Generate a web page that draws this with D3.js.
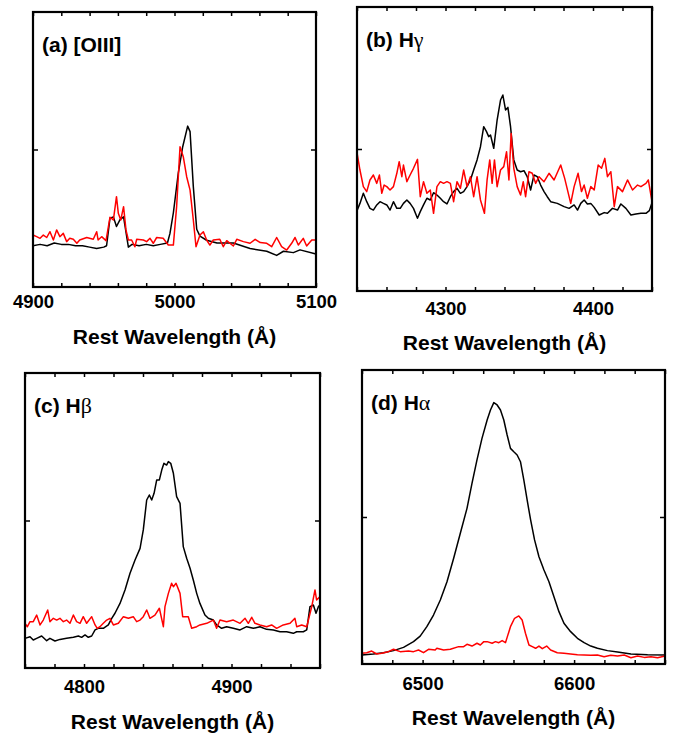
<!DOCTYPE html>
<html>
<head>
<meta charset="utf-8">
<script src="https://cdn.jsdelivr.net/npm/d3@7"></script>
<style>
  body { margin: 0; background: #fff; }
  text { font-family: "Liberation Sans", Arial, sans-serif; }
</style>
</head>
<body>
<div id="chartContainer"></div>
<script>
// Spectra: [rest wavelength (Å), relative flux]
const oiiiBlack = [[4900,.30],[4905,.31],[4910,.30],[4915,.32],[4920,.31],[4925,.31],[4930,.30],[4935,.30],[4940,.29],[4945,.28],[4950,.29],[4952,.30],[4954.4,.50],[4956.8,.51],[4959,.44],[4961.5,.49],[4964,.51],[4967.4,.29],[4970,.31],[4975,.30],[4980,.31],[4985,.30],[4990,.31],[4995,.32],[4996.8,.39],[4999.2,.54],[5002.7,.83],[5005.8,1.02],[5009.3,1.17],[5011,1.13],[5013.3,.73],[5015.7,.42],[5018,.37],[5022.7,.34],[5030,.32],[5041.6,.32],[5053.4,.28],[5065.2,.26],[5072.2,.23],[5077,.26],[5084,.25],[5088.7,.27],[5100,.24]];
const oiiiRed = [[4900,.378],[4902.6,.366],[4905,.354],[4907.3,.378],[4909.7,.36],[4912,.402],[4914.4,.342],[4916.7,.415],[4919,.366],[4921.4,.39],[4923.8,.33],[4926,.354],[4928.5,.347],[4931,.318],[4933,.342],[4938,.36],[4942.6,.347],[4945,.402],[4946,.342],[4948.5,.366],[4951.6,.337],[4954.4,.507],[4956.8,.487],[4959,.657],[4960.3,.536],[4962,.487],[4964,.584],[4965.7,.415],[4967.4,.342],[4969.7,.342],[4972,.293],[4973.3,.347],[4978,.342],[4980.3,.33],[4982.7,.354],[4985,.318],[4987.4,.36],[4992,.354],[4995.6,.305],[4999.2,.305],[5001.5,.584],[5003.9,1.02],[5006.2,.948],[5008.6,.802],[5011,.705],[5013.3,.487],[5015.2,.293],[5018,.378],[5020.4,.402],[5022.7,.342],[5025,.305],[5027.4,.342],[5032,.347],[5034.5,.293],[5036.9,.337],[5041.6,.298],[5044,.347],[5048.7,.33],[5053.4,.318],[5057,.347],[5060.6,.323],[5065.2,.318],[5068.7,.293],[5072.2,.36],[5075.7,.293],[5079.3,.269],[5082.8,.318],[5085.2,.36],[5087.5,.305],[5091,.354],[5093.4,.298],[5097,.342],[5100,.342]];

const hgBlack = [[4240,.566],[4242,.617],[4244.3,.688],[4246.6,.629],[4248.8,.582],[4251.1,.570],[4253.4,.606],[4255.6,.629],[4257.9,.617],[4260.2,.606],[4262.4,.570],[4264.7,.629],[4267,.582],[4269.3,.582],[4271.5,.617],[4273.8,.641],[4276,.617],[4278.3,.582],[4281,.512],[4282.9,.559],[4285.1,.606],[4287.4,.653],[4289.7,.641],[4291.9,.692],[4294.2,.676],[4296.5,.653],[4298.7,.629],[4301,.613],[4303.3,.664],[4305.5,.700],[4307.8,.723],[4310.1,.688],[4312.3,.700],[4314.6,.735],[4316.9,.782],[4319.1,.852],[4321.4,.923],[4323.7,1.016],[4325.9,1.157],[4327.8,1.122],[4329.3,1.087],[4330.5,1.099],[4332.7,1.005],[4335,1.204],[4337.3,1.345],[4338.9,1.380],[4340.7,1.275],[4342.3,1.293],[4344.1,1.157],[4346.3,.923],[4348.6,.852],[4350.9,.840],[4353.2,.847],[4355.4,.805],[4357.7,.711],[4360,.817],[4362.2,.805],[4364.5,.746],[4366.8,.700],[4369,.664],[4371.3,.629],[4375.8,.617],[4380.4,.594],[4383.8,.582],[4387.2,.606],[4389.5,.570],[4391.7,.617],[4394,.641],[4396.2,.613],[4398.5,.617],[4400.8,.589],[4404.2,.535],[4407.6,.552],[4409.8,.547],[4413.2,.582],[4416.6,.570],[4418.9,.613],[4422.3,.582],[4425.7,.535],[4429.1,.542],[4432.5,.547],[4435.9,.547],[4438.2,.566],[4440,.622]];
const hgRed = [[4240,.974],[4242,.852],[4244.3,.735],[4246.6,.700],[4248.8,.782],[4251.1,.817],[4253.4,.758],[4255.2,.817],[4256.8,.688],[4258.4,.746],[4260.2,.735],[4262.4,.711],[4264.7,.735],[4267,.829],[4268.6,.911],[4270.4,.805],[4271.5,.887],[4273.8,.770],[4276,.817],[4278.3,.864],[4281,.927],[4282.9,.664],[4285.1,.770],[4287.4,.688],[4289.7,.711],[4291.9,.547],[4294.2,.735],[4296.5,.770],[4298.7,.758],[4301,.770],[4303.3,.758],[4305.5,.629],[4307.8,.770],[4310.1,.723],[4312.3,.852],[4314.6,.735],[4316.9,.805],[4319.1,.664],[4321.4,.805],[4323.7,.641],[4326.4,.547],[4328.2,.782],[4330,.923],[4331.6,.758],[4333.2,.923],[4335,.735],[4337.3,.852],[4339.5,.876],[4341.4,.981],[4343,.782],[4344.5,1.110],[4346.3,.864],[4348.6,.735],[4350.9,.676],[4352.7,.770],[4354.3,.664],[4356.6,.840],[4358.8,.829],[4361.1,.758],[4363.4,.805],[4366.8,.770],[4370.2,.829],[4373.6,.782],[4378.1,.887],[4380.8,.793],[4384.9,.617],[4387.2,.735],[4389.9,.829],[4392.2,.700],[4394,.746],[4396.2,.653],[4398.5,.735],[4400.8,.711],[4403.5,.887],[4405.8,.864],[4408,.934],[4409.8,.805],[4412.1,.840],[4414.4,.594],[4416.6,.735],[4420,.700],[4423.4,.782],[4426.8,.711],[4430.2,.746],[4432.5,.735],[4435.9,.758],[4437.5,.782],[4440,.629]];

const hbBlack = [[4760,.201],[4763.4,.212],[4765.6,.190],[4767.9,.201],[4771.3,.217],[4774.7,.185],[4776.9,.201],[4780.3,.183],[4783.7,.194],[4788.2,.201],[4792.8,.208],[4796.2,.217],[4798.4,.208],[4800.7,.224],[4802.9,.208],[4805.2,.217],[4807.5,.258],[4809.7,.269],[4813.1,.269],[4816.5,.292],[4818.8,.337],[4821,.371],[4824.4,.438],[4827.8,.529],[4831.2,.642],[4834.6,.732],[4838,.811],[4840.2,.936],[4842.5,1.139],[4844.3,1.173],[4845.9,1.139],[4847.5,1.184],[4849.3,1.275],[4851.1,1.275],[4852.7,1.342],[4854.2,1.388],[4856,1.376],[4857.2,1.399],[4858.8,1.388],[4860.6,1.320],[4862.8,1.162],[4865.1,1.116],[4867.3,.823],[4869.6,.744],[4871.9,.676],[4874.1,.597],[4876.4,.506],[4878.6,.438],[4882,.359],[4884.3,.337],[4887.7,.325],[4889.9,.292],[4893.3,.269],[4896.7,.280],[4901.2,.269],[4905.8,.258],[4910.3,.280],[4914.8,.269],[4919.3,.280],[4923.8,.262],[4928.4,.258],[4932.9,.246],[4937.4,.246],[4941.9,.235],[4944.2,.246],[4948.7,.246],[4951,.258],[4953.2,.416],[4955.5,.427],[4957.3,.371],[4958.9,.416],[4960,.427]];
const hbRed = [[4760,.303],[4761.6,.280],[4763.4,.314],[4765.6,.314],[4767.9,.359],[4770.2,.292],[4772.4,.325],[4775.4,.393],[4776.9,.314],[4779.2,.337],[4781.5,.325],[4783.7,.337],[4786,.314],[4788.2,.325],[4790.5,.303],[4792.8,.359],[4795,.314],[4797.3,.303],[4799.5,.348],[4801.8,.303],[4805.2,.348],[4807.5,.292],[4809,.269],[4810.8,.280],[4813.1,.303],[4815.4,.325],[4817.6,.337],[4819.9,.292],[4823.3,.303],[4826.7,.348],[4830.1,.337],[4833.4,.348],[4835.7,.314],[4838,.325],[4840.2,.348],[4842.5,.393],[4844.7,.337],[4848.1,.359],[4851.1,.405],[4853.8,.280],[4854.9,.416],[4857.2,.506],[4859.4,.574],[4860.6,.551],[4862.4,.574],[4865.1,.506],[4866.9,.348],[4868.5,.348],[4870.7,.348],[4873,.269],[4876.4,.280],[4878.6,.292],[4883.2,.303],[4887.7,.325],[4889.9,.269],[4892.2,.325],[4896.7,.314],[4901.2,.325],[4905.8,.303],[4909.2,.337],[4911.4,.303],[4913.7,.344],[4915.9,.303],[4919.3,.292],[4923.8,.280],[4927.2,.292],[4930.6,.269],[4935.1,.292],[4939.7,.303],[4943,.337],[4944.2,.280],[4947.6,.292],[4951,.280],[4954.4,.416],[4956.6,.529],[4957.7,.461],[4960,.484]];

const haBlack = [[6460,.061],[6467.5,.068],[6474.1,.077],[6480.8,.091],[6487.4,.113],[6494,.152],[6498.4,.190],[6502.8,.254],[6507.2,.333],[6511.7,.435],[6516.1,.560],[6520.5,.719],[6524.9,.889],[6529.3,1.059],[6532.6,1.229],[6535.9,1.388],[6539.2,1.535],[6542.6,1.660],[6544.8,1.728],[6547,1.778],[6549.2,1.762],[6551.4,1.728],[6553.6,1.660],[6555.8,1.558],[6558,1.467],[6560.2,1.444],[6562.4,1.422],[6564.6,1.376],[6566.8,1.252],[6569,1.116],[6571.3,.980],[6573.9,.844],[6576.8,.730],[6580.1,.639],[6583.4,.560],[6586.7,.458],[6590,.356],[6593.3,.277],[6597.7,.220],[6602.2,.175],[6606.6,.145],[6611,.122],[6615.4,.107],[6622,.091],[6628.7,.082],[6637.5,.068],[6648.5,.063],[6660,.061]];
const haRed = [[6460,.073],[6463.1,.077],[6466.4,.088],[6469.7,.068],[6473,.073],[6477.4,.084],[6480.8,.100],[6485.2,.084],[6490.7,.088],[6494,.084],[6497.3,.095],[6500.6,.077],[6503.9,.100],[6508.3,.095],[6509.4,.107],[6513.9,.095],[6518.3,.100],[6523.8,.118],[6527.1,.118],[6529.3,.134],[6532.6,.122],[6535.9,.141],[6538.1,.129],[6540.4,.152],[6542.6,.152],[6545.9,.141],[6548.1,.152],[6550.3,.145],[6552.5,.159],[6554.7,.145],[6555.8,.181],[6558,.254],[6560.7,.311],[6563.5,.327],[6565.7,.299],[6567.9,.209],[6570.2,.129],[6572.4,.118],[6574.6,.107],[6576.8,.122],[6579,.104],[6581.9,.122],[6584.5,.095],[6588.9,.077],[6593.3,.073],[6597.7,.068],[6602.2,.063],[6606.6,.061],[6611,.059],[6615.4,.061],[6619.8,.050],[6624.2,.059],[6628.7,.054],[6633.1,.061],[6637.5,.043],[6641.9,.054],[6646.3,.045],[6650.7,.050],[6655.1,.043],[6660,.054]];

// x ranges and labelled ticks of each panel
const domains = { a: [4900, 5100], b: [4240, 4440], c: [4760, 4960], d: [6460, 6660] };
const labelTicks = { a: [4900, 5000, 5100], b: [4300, 4400], c: [4800, 4900], d: [6500, 6600] };
const panelNames = { a: ["(a) [OIII]", ""], b: ["(b) H", "γ"], c: ["(c) H", "β"], d: ["(d) H", "α"] };

const width = 673;
const height = 734;

const svg = d3.create("svg")
    .attr("width", width)
    .attr("height", height)
    .attr("viewBox", [0, 0, width, height]);

// panel frames in pixels
const panels = [
  { key: "a", left: 33, top: 12, right: 316, bottom: 287, tickY: 8, titleY: 344, black: oiiiBlack, red: oiiiRed },
  { key: "b", left: 357, top: 7, right: 652, bottom: 291, tickY: 11, titleY: 350, black: hgBlack, red: hgRed },
  { key: "c", left: 25, top: 373, right: 320, bottom: 668, tickY: 12, titleY: 729, black: hbBlack, red: hbRed },
  { key: "d", left: 362, top: 370, right: 665, bottom: 664, tickY: 13, titleY: 725, black: haBlack, red: haRed }
];

panels.forEach(function(p) {
  const g = svg.append("g");
  const dom = domains[p.key];

  const x = d3.scaleLinear().domain(dom).range([p.left, p.right]);
  const y = d3.scaleLinear().domain([0, 2]).range([p.bottom, p.top]);

  const allTicks = d3.range(dom[0], dom[1] + 1, 20);
  const labelled = labelTicks[p.key];

  // bottom axis with inward ticks, labels on hundreds only
  const bx = g.append("g")
      .attr("transform", `translate(0,${p.bottom})`)
      .call(d3.axisBottom(x).tickValues(allTicks).tickSize(-4).tickPadding(p.tickY)
        .tickFormat(d => labelled.includes(d) ? d : ""));
  bx.select(".domain").remove();
  bx.selectAll("text")
      .attr("font-size", 18.5)
      .attr("font-weight", "bold")
      .attr("font-family", "Liberation Sans, Arial, sans-serif")
      .attr("fill", "#000");

  // top ticks
  const tx = g.append("g")
      .attr("transform", `translate(0,${p.top})`)
      .call(d3.axisTop(x).tickValues(allTicks).tickSize(-4).tickFormat(""));
  tx.select(".domain").remove();

  // left / right ticks
  const ly = g.append("g")
      .attr("transform", `translate(${p.left},0)`)
      .call(d3.axisLeft(y).tickValues([1]).tickSize(-5).tickFormat(""));
  ly.select(".domain").remove();
  const ry = g.append("g")
      .attr("transform", `translate(${p.right},0)`)
      .call(d3.axisRight(y).tickValues([1]).tickSize(-5).tickFormat(""));
  ry.select(".domain").remove();
  g.selectAll("line").attr("stroke-width", 1.5);

  const line = d3.line()
      .x(d => x(d[0]))
      .y(d => y(d[1]));

  g.append("path")
      .attr("fill", "none")
      .attr("stroke", "#000")
      .attr("stroke-width", 1.5)
      .attr("stroke-linejoin", "round")
      .attr("d", line(p.black));

  g.append("path")
      .attr("fill", "none")
      .attr("stroke", "#ff0000")
      .attr("stroke-width", 1.5)
      .attr("stroke-linejoin", "round")
      .attr("d", line(p.red));

  // frame
  g.append("rect")
      .attr("x", p.left)
      .attr("y", p.top)
      .attr("width", p.right - p.left)
      .attr("height", p.bottom - p.top)
      .attr("fill", "none")
      .attr("stroke", "#000")
      .attr("stroke-width", 2.2);

  // panel label
  const name = panelNames[p.key];
  const lbl = g.append("text")
      .attr("x", p.left + 9)
      .attr("y", p.top + 40)
      .attr("font-size", 21)
      .attr("font-weight", "bold");
  lbl.append("tspan").text(name[0]);
  if (name[1]) {
    lbl.append("tspan")
        .attr("font-weight", "normal")
        .attr("font-family", "Liberation Serif, serif")
        .attr("font-size", 22)
        .text(name[1]);
  }

  // axis title
  g.append("text")
      .attr("x", (p.left + p.right) / 2)
      .attr("y", p.titleY)
      .attr("text-anchor", "middle")
      .attr("font-size", 21)
      .attr("font-weight", "bold")
      .text("Rest Wavelength (Å)");
});

document.getElementById("chartContainer").appendChild(svg.node());
</script>
</body>
</html>
